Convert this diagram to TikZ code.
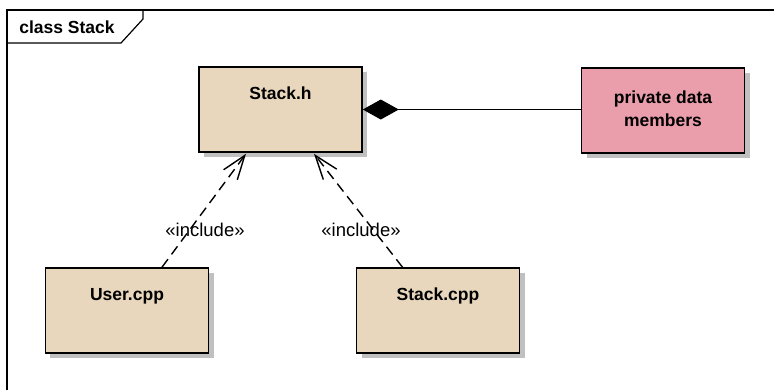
\documentclass[tikz,border=0pt]{standalone}
\usepackage{fontspec}
\setmainfont{Liberation Sans}
\usetikzlibrary{arrows.meta,shadows,calc}

\definecolor{classfill}{RGB}{233,215,189}
\definecolor{notefill}{RGB}{234,157,170}
\definecolor{shadowgrey}{RGB}{192,192,192}

\tikzset{
  boxshadow/.style={drop shadow={shadow xshift=5bp, shadow yshift=-5bp,
      fill=shadowgrey, opacity=1}},
  classbox/.style={draw=black, line width=1.6bp, fill=classfill, boxshadow,
      minimum width=163bp, minimum height=85bp, inner sep=0pt},
  privbox/.style={classbox, fill=notefill, minimum height=85bp},
  classname/.style={font=\fontsize{17.5bp}{23bp}\selectfont\bfseries, inner sep=0pt, align=center},
  stereo/.style={font=\fontsize{18.5bp}{20bp}\selectfont, inner sep=0pt},
  include/.style={line width=1.4bp, dash pattern=on 10bp off 6bp,
      -{Straight Barb[length=24bp,width=17bp,line width=1.4bp]}},
  compose/.style={line width=1.4bp,
      {Diamond[length=36bp,width=20bp,fill=black]}-},
  frameline/.style={line width=1.2bp}
}

\begin{document}
\begin{tikzpicture}[x=1bp,y=-1bp]
  \useasboundingbox[fill=white] (0,0) rectangle (774,390);

  % diagram frame with its name tab
  \draw[frameline] (774,10) -- (7,10) -- (7,390);
  \draw[frameline] (7,43) -- (121,43) -- (143,19) -- (143,10);
  \node[classname] (frametitle) at (67,27.5) {class Stack};

  % classes
  \node[classbox] (stackh) at (280.5,109.5) {};
  \node[classname] (stackhname) at ($(stackh.north)+(0,27)$) {Stack.h};

  \node[privbox] (priv) at (663,110.5) {};
  \node[classname] (privname) at ($(priv.center)+(0,-2)$) {private data\\members};

  \node[classbox] (user) at (127,310.5) {};
  \node[classname] (username) at ($(user.north)+(0,29)$) {User.cpp};

  \node[classbox] (stackcpp) at (438,310.5) {};
  \node[classname] (stackcppname) at ($(stackcpp.north)+(0,29)$) {Stack.cpp};

  % composition of the private data into the header
  \draw[compose] (stackh.east) -- (priv.west |- stackh.east);

  % include dependencies
  \coordinate (userout) at ($(user.north)+(35,0)$);
  \coordinate (hin1) at ($(stackh.south)+(-34.5,1)$);
  \coordinate (cppout) at ($(stackcpp.north)+(-35.5,0)$);
  \coordinate (hin2) at ($(stackh.south)+(33.5,1)$);

  \draw[include] (userout) -- (hin1);
  \draw[include] (cppout) -- (hin2);

  \node[stereo] (inc1) at (205,230) {«include»};
  \node[stereo] (inc2) at (361,230) {«include»};
\end{tikzpicture}
\end{document}
